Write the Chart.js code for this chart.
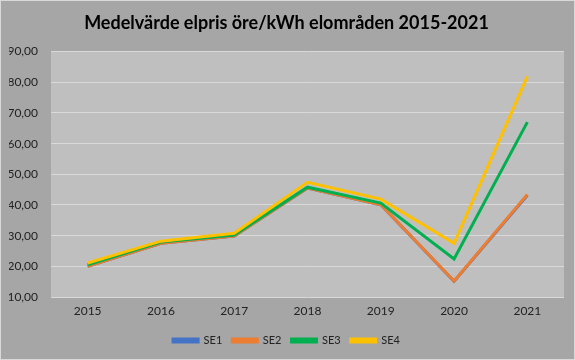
<!DOCTYPE html>
<html>
<head>
<meta charset="utf-8">
<script src="https://cdn.jsdelivr.net/npm/chart.js@4"></script>
<style>
  html, body { margin: 0; padding: 0; background: #a6a6a6; }
  canvas { display: block; }
</style>
</head>
<body>
<canvas id="priceChart" width="575" height="360"></canvas>
<script>
// average spot price per area, öre/kWh
const years = ["2015", "2016", "2017", "2018", "2019", "2020", "2021"];
const se1 = [20.0, 27.5, 29.9, 45.5, 40.1, 15.1, 43.2];
const se2 = [20.0, 27.5, 29.9, 45.5, 40.1, 15.2, 43.4];
const se3 = [20.5, 27.9, 30.2, 45.8, 40.6, 22.4, 67.0];
const se4 = [21.1, 28.2, 30.8, 47.4, 41.9, 27.5, 81.9];
const yTicks = [10, 20, 30, 40, 50, 60, 70, 80, 90];

const seriesNames = ["SE1", "SE2", "SE3", "SE4"];
const seriesColors = ["#4472c4", "#ed7d31", "#00b050", "#ffc000"];

// grey plot area + thin outer frame
const backdrop = {
  id: "backdrop",
  beforeDraw(chart) {
    const { ctx, chartArea } = chart;
    ctx.save();
    ctx.fillStyle = "#a6a6a6";
    ctx.fillRect(0, 0, chart.width, chart.height);
    ctx.fillStyle = "#bfbfbf";
    ctx.fillRect(chartArea.left, chartArea.top,
      chartArea.right - chartArea.left, chartArea.bottom - chartArea.top);
    ctx.strokeStyle = "#d9d9d9";
    ctx.lineWidth = 1;
    ctx.strokeRect(0.5, 0.5, chart.width - 1, chart.height - 1);
    ctx.restore();
  }
};

const ctx = document.getElementById("priceChart").getContext("2d");

new Chart(ctx, {
  type: "line",
  data: {
    labels: years,
    datasets: [se1, se2, se3, se4].map((vals, i) => ({
      label: seriesNames[i],
      data: vals,
      borderColor: seriesColors[i],
      backgroundColor: seriesColors[i],
      borderWidth: 3,
      pointRadius: 0,
      tension: 0,
      order: 4 - i   // SE4 on top, SE1 underneath
    }))
  },
  options: {
    responsive: false,
    animation: false,
    layout: {
      padding: { left: 9, right: 11, top: 10, bottom: 4 }
    },
    plugins: {
      title: {
        display: true,
        text: "Medelvärde elpris öre/kWh elområden 2015-2021",
        color: "#000",
        font: { family: "Lato", size: 18, weight: "bold" },
        padding: { top: 2, bottom: 18 }
      },
      legend: {
        position: "bottom",
        labels: {
          color: "#222",
          font: { family: "Lato", size: 11 },
          boxWidth: 25,
          boxHeight: 3,
          padding: 10,
          sort: (a, b) => a.datasetIndex - b.datasetIndex
        }
      },
      tooltip: { enabled: false }
    },
    scales: {
      x: {
        offset: true,
        grid: { display: false, drawTicks: false },
        border: { display: false },
        afterFit: axis => { axis.height = 28; },
        ticks: {
          color: "#222",
          font: { family: "Lato", size: 12 },
          padding: 7
        }
      },
      y: {
        min: 10,
        max: 90,
        afterBuildTicks: axis => { axis.ticks = yTicks.map(v => ({ value: v })); },
        afterFit: axis => { axis.width = 42; },
        grid: { color: "#d9d9d9", lineWidth: 1, drawTicks: false },
        border: { display: false },
        ticks: {
          color: "#222",
          font: { family: "Lato", size: 12 },
          padding: 13,
          callback: v => v.toFixed(2).replace(".", ",")
        }
      }
    }
  },
  plugins: [backdrop]
});
</script>
</body>
</html>
